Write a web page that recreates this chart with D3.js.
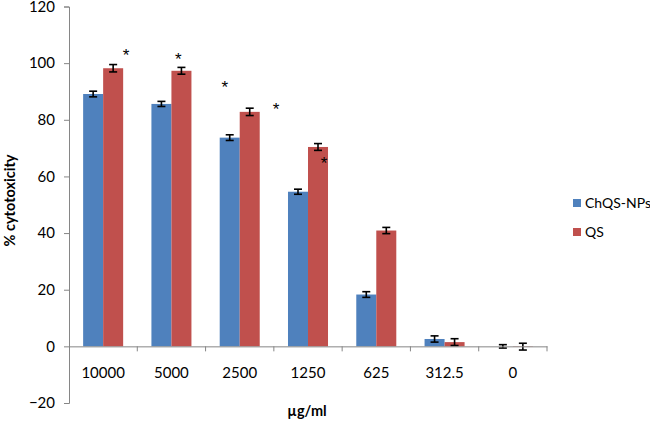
<!DOCTYPE html>
<html>
<head>
<meta charset="utf-8">
<script src="https://cdn.jsdelivr.net/npm/d3@7"></script>
<style>
  body { margin: 0; background: #fff; }
  text { font-family: Lato, "Open Sans", sans-serif; fill: #000; }
</style>
</head>
<body>
<div id="chart"></div>
<script>
// data
var categories = ["10000", "5000", "2500", "1250", "625", "312.5", "0"];
var seriesNames = ["ChQS-NPs", "QS"];
var chqsValues = [89.1, 85.6, 73.7, 54.6, 18.3, 2.6, 0.0];
var chqsErrors = [1.0, 0.9, 1.0, 0.9, 1.0, 1.1, 0.6];
var qsValues = [98.2, 97.3, 82.8, 70.4, 40.9, 1.5, -0.1];
var qsErrors = [1.3, 1.2, 1.3, 1.2, 1.1, 1.2, 1.2];
var yTicks = [-20, 0, 20, 40, 60, 80, 100, 120];
// significance stars: category, position across the bar pair (0..1), value
var stars = [
    { cat: "10000", pos: 1.07, value: 104.2 },
    { cat: "5000", pos: 0.67, value: 103.0 },
    { cat: "2500", pos: 0.13, value: 93.0 },
    { cat: "2500", pos: 1.41, value: 85.4 },
    { cat: "1250", pos: 0.9, value: 66.2 }
];
var colors = ["#4f81bd", "#c0504d"];

var w = 650, h = 421;
var margin = { top: 6.5, left: 69, right: 103, bottom: 18 };

var svg = d3.select("#chart").append("svg")
    .attr("width", w)
    .attr("height", h);

var x = d3.scaleBand()
    .domain(categories)
    .range([margin.left, w - margin.right])
    .paddingInner(0)
    .paddingOuter(0);

var y = d3.scaleLinear()
    .domain([-20, 120])
    .range([h - margin.bottom, margin.top]);

var barW = x.bandwidth() * 0.293;
var groupOffset = (x.bandwidth() - 2 * barW) / 2;

var series = [
    { name: seriesNames[0], values: chqsValues, errors: chqsErrors, color: colors[0] },
    { name: seriesNames[1], values: qsValues, errors: qsErrors, color: colors[1] }
];

// bars
series.forEach(function (s, si) {
    var rows = categories.map(function (c, i) {
        return { cat: c, v: s.values[i], e: s.errors[i] };
    });
    var bx = function (d) { return x(d.cat) + groupOffset + si * barW; };

    svg.append("g").selectAll("rect")
        .data(rows)
        .enter().append("rect")
        .attr("x", bx)
        .attr("y", d => y(Math.max(0, d.v)))
        .attr("width", barW)
        .attr("height", d => Math.abs(y(d.v) - y(0)))
        .attr("fill", s.color);

    // error bars
    var eb = svg.append("g").attr("stroke", "#000").attr("stroke-width", 1.6);
    rows.forEach(function (d) {
        var cx = bx(d) + barW / 2;
        eb.append("line").attr("x1", cx).attr("x2", cx)
            .attr("y1", y(d.v + d.e)).attr("y2", y(d.v - d.e));
        eb.append("line").attr("x1", cx - 4).attr("x2", cx + 4)
            .attr("y1", y(d.v + d.e)).attr("y2", y(d.v + d.e));
        eb.append("line").attr("x1", cx - 4).attr("x2", cx + 4)
            .attr("y1", y(d.v - d.e)).attr("y2", y(d.v - d.e));
    });
});

// y axis
var yAxis = svg.append("g")
    .attr("transform", "translate(" + margin.left + ",0)")
    .call(d3.axisLeft(y).tickValues(yTicks).tickSize(5).tickPadding(9));
yAxis.select(".domain").attr("stroke", "#868686");
yAxis.selectAll(".tick line").attr("stroke", "#868686");
yAxis.selectAll("text").style("font-size", "15px").style("font-family", "Lato, sans-serif");

// x axis at zero
var xAxis = svg.append("g")
    .attr("transform", "translate(0," + y(0) + ")")
    .call(d3.axisBottom(x).tickSize(0).tickPadding(21).tickSizeOuter(0));
xAxis.select(".domain").attr("stroke", "#868686");
xAxis.selectAll("text").style("font-size", "15px").style("font-family", "Lato, sans-serif");
// tick marks on the band boundaries
svg.append("g").selectAll("line")
    .data(categories.slice(1).concat(["end"]))
    .enter().append("line")
    .attr("x1", d => d === "end" ? x.range()[1] : x(d))
    .attr("x2", d => d === "end" ? x.range()[1] : x(d))
    .attr("y1", y(0))
    .attr("y2", y(0) + 5)
    .attr("stroke", "#868686");

// stars
svg.append("g").selectAll("text")
    .data(stars)
    .enter().append("text")
    .attr("x", d => x(d.cat) + groupOffset + d.pos * 2 * barW)
    .attr("y", d => y(d.value))
    .attr("dy", "0.6em")
    .attr("text-anchor", "middle")
    .style("font-family", "'Liberation Sans', sans-serif")
    .style("font-size", "17px")
    .text("*");

// axis titles
svg.append("text")
    .attr("transform", "translate(15," + y(51.5) + ") rotate(-90)")
    .attr("text-anchor", "middle")
    .style("font-size", "14.5px")
    .style("font-weight", "bold")
    .text("% cytotoxicity");

svg.append("text")
    .attr("x", 307)
    .attr("y", 416)
    .attr("text-anchor", "middle")
    .style("font-size", "14.5px")
    .style("font-weight", "bold")
    .text("µg/ml");

// legend
var legend = svg.append("g").attr("transform", "translate(573,199)");
series.forEach(function (s, i) {
    var g = legend.append("g").attr("transform", "translate(0," + i * 29 + ")");
    g.append("rect").attr("width", 8).attr("height", 8).attr("fill", s.color);
    g.append("text").attr("x", 12).attr("y", 4).attr("dy", "0.35em")
        .style("font-size", "14px").text(s.name);
});
</script>
</body>
</html>
